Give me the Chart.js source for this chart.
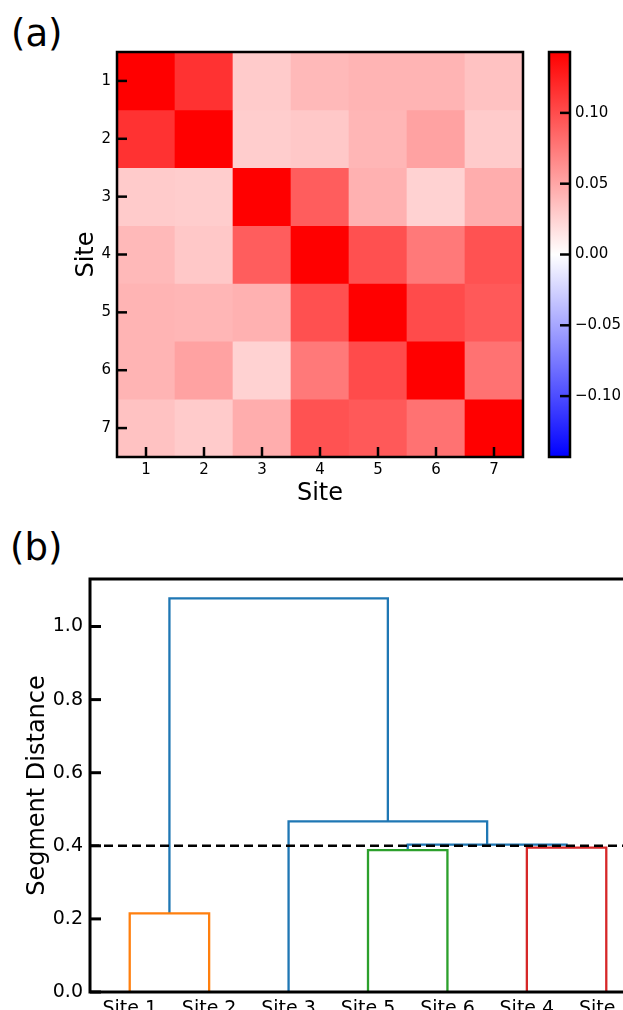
<!DOCTYPE html>
<html lang="en">
<head>
<meta charset="UTF-8">
<title>Site correlation and dendrogram</title>
<script src="https://cdn.jsdelivr.net/npm/chart.js@4.4.0/dist/chart.umd.min.js"></script>
<style>
  html, body { margin: 0; padding: 0; background: #fff; overflow: hidden; }
  body { width: 623px; height: 1010px; position: relative; font-family: 'DejaVu Sans', sans-serif; }
  .tag { position: absolute; font-size: 37px; line-height: 1; color: #000; }
  .box { position: absolute; }
</style>
</head>
<body>

<div class="tag" style="left:11px;top:15px">(a)</div>
<div class="tag" style="left:10px;top:529px">(b)</div>

<div class="box" style="left:0;top:0;width:540px;height:512px"><canvas id="heat" width="540" height="512"></canvas></div>
<div class="box" style="left:540px;top:0;width:83px;height:512px"><canvas id="cbar" width="83" height="512"></canvas></div>
<div class="box" style="left:0;top:530px;width:690px;height:500px"><canvas id="dendro" width="690" height="500"></canvas></div>

<script>
// ---- data ----
const siteTicks = ['1', '2', '3', '4', '5', '6', '7'];
const corr = [
  [0.143, 0.115, 0.029, 0.039, 0.042, 0.042, 0.034],
  [0.115, 0.143, 0.028, 0.031, 0.041, 0.052, 0.029],
  [0.029, 0.028, 0.143, 0.091, 0.044, 0.025, 0.046],
  [0.039, 0.031, 0.091, 0.143, 0.098, 0.075, 0.097],
  [0.042, 0.041, 0.044, 0.098, 0.143, 0.101, 0.093],
  [0.042, 0.052, 0.025, 0.075, 0.101, 0.143, 0.079],
  [0.034, 0.029, 0.046, 0.097, 0.093, 0.079, 0.143]
];
const vLimit = 0.143;
const cbarTicks = [-0.10, -0.05, 0.00, 0.05, 0.10];

// dendrogram (scipy style: leaf i sits at 5 + 10*i)
const leafLabels = ['Site 1', 'Site 2', 'Site 3', 'Site 5', 'Site 6', 'Site 4', 'Site 7'];
const linkX = [[5, 5, 15, 15], [35, 35, 45, 45], [55, 55, 65, 65], [40, 40, 60, 60], [25, 25, 50, 50], [10, 10, 37.5, 37.5]];
const linkY = [[0, 0.215, 0.215, 0], [0, 0.388, 0.388, 0], [0, 0.395, 0.395, 0], [0.388, 0.403, 0.403, 0.395], [0, 0.467, 0.467, 0.403], [0.215, 1.077, 1.077, 0.467]];
const linkColors = ['#ff7f0e', '#2ca02c', '#d62728', '#1f77b4', '#1f77b4', '#1f77b4'];
const cutHeight = 0.4;
const distTicks = [0.0, 0.2, 0.4, 0.6, 0.8, 1.0];

Chart.defaults.font.family = "'DejaVu Sans', sans-serif";
Chart.defaults.color = '#000';
Chart.defaults.animation = false;

function bwr(v) {
  const t = Math.max(-1, Math.min(1, v / vLimit));
  if (t >= 0) {
    const g = Math.round(255 * (1 - t));
    return 'rgb(255,' + g + ',' + g + ')';
  }
  const g = Math.round(255 * (1 + t));
  return 'rgb(' + g + ',' + g + ',255)';
}

// matplotlib-like inward ticks + axes frame
const inTicks = {
  id: 'inTicks',
  afterDraw(chart, args, opts) {
    const c = chart.ctx;
    c.save();
    c.strokeStyle = '#000';
    c.lineWidth = opts.width;
    (opts.axes || []).forEach(function (id) {
      const s = chart.scales[id];
      s.ticks.forEach(function (t, i) {
        const p = s.getPixelForTick(i);
        c.beginPath();
        if (s.position === 'left') { c.moveTo(s.right, p); c.lineTo(s.right + opts.length, p); }
        else if (s.position === 'right') { c.moveTo(s.left, p); c.lineTo(s.left - opts.length, p); }
        else { c.moveTo(p, s.top); c.lineTo(p, s.top - opts.length); }
        c.stroke();
      });
    });
    const a = chart.chartArea;
    c.lineWidth = opts.frame;
    c.strokeRect(a.left, a.top, a.right - a.left, a.bottom - a.top);
    c.restore();
  }
};

const noGrid = { display: false, drawTicks: false };

// ---- (a) heatmap ----
const heatSets = corr.map(function (row, r) {
  return {
    data: row.map(function () { return [r + 0.5, r + 1.5]; }),
    backgroundColor: row.map(bwr),
    borderWidth: 0,
    grouped: false,
    barPercentage: 1,
    categoryPercentage: 1
  };
});

new Chart(document.getElementById('heat'), {
  type: 'bar',
  data: { labels: siteTicks, datasets: heatSets },
  options: {
    responsive: false,
    layout: { padding: { left: 68, top: 52, right: 17, bottom: 0 } },
    plugins: {
      legend: { display: false },
      tooltip: { enabled: false },
      inTicks: { axes: ['x', 'y'], length: 10, width: 2.5, frame: 2.5 }
    },
    scales: {
      x: {
        grid: noGrid,
        border: { display: false },
        ticks: { font: { size: 15 }, padding: 4 },
        title: { display: true, text: 'Site', font: { size: 24 }, padding: { top: 4, bottom: 4 } },
        afterFit: function (s) { s.height = 55; }
      },
      y: {
        type: 'linear',
        min: 0.5,
        max: 7.5,
        reverse: true,
        grid: noGrid,
        border: { display: false },
        afterBuildTicks: function (s) { s.ticks = siteTicks.map(function (l, i) { return { value: i + 1 }; }); },
        ticks: { font: { size: 15 }, padding: 6, callback: function (v) { return String(v); } },
        title: { display: true, text: 'Site', font: { size: 24 }, padding: { top: 4, bottom: 4 } },
        afterFit: function (s) { s.width = 49; }
      }
    }
  },
  plugins: [inTicks]
});

// ---- colorbar ----
new Chart(document.getElementById('cbar'), {
  type: 'bar',
  data: {
    labels: [''],
    datasets: [{
      data: [[-vLimit, vLimit]],
      borderWidth: 0,
      barPercentage: 1,
      categoryPercentage: 1,
      backgroundColor: function (ctx) {
        const a = ctx.chart.chartArea;
        if (!a) return '#fff';
        const g = ctx.chart.ctx.createLinearGradient(0, a.bottom, 0, a.top);
        g.addColorStop(0, bwr(-vLimit));
        g.addColorStop(0.5, bwr(0));
        g.addColorStop(1, bwr(vLimit));
        return g;
      }
    }]
  },
  options: {
    responsive: false,
    layout: { padding: { left: 9, top: 52, right: 0, bottom: 55 } },
    plugins: {
      legend: { display: false },
      tooltip: { enabled: false },
      inTicks: { axes: ['y'], length: 10, width: 2.5, frame: 2.5 }
    },
    scales: {
      x: { display: false },
      y: {
        position: 'right',
        min: -vLimit,
        max: vLimit,
        grid: noGrid,
        border: { display: false },
        afterBuildTicks: function (s) { s.ticks = cbarTicks.map(function (v) { return { value: v }; }); },
        ticks: {
          font: { size: 15 },
          padding: 5,
          callback: function (v) { return v.toFixed(2).replace('-', '\u2212'); }
        },
        afterFit: function (s) { s.width = 53; }
      }
    }
  },
  plugins: [inTicks]
});

// ---- (b) dendrogram ----
const dendroSets = [{
  data: [{ x: 0, y: cutHeight }, { x: 70, y: cutHeight }],
  borderColor: '#000',
  borderDash: [9, 5],
  borderWidth: 2.5,
  pointRadius: 0
}].concat(linkX.map(function (xs, i) {
  return {
    data: xs.map(function (x, j) { return { x: x, y: linkY[i][j] }; }),
    borderColor: linkColors[i],
    borderWidth: 2.3,
    pointRadius: 0,
    tension: 0
  };
}));

new Chart(document.getElementById('dendro'), {
  type: 'line',
  data: { datasets: dendroSets },
  options: {
    responsive: false,
    layout: { padding: { left: 19, top: 49, right: 44, bottom: 0 } },
    plugins: {
      legend: { display: false },
      tooltip: { enabled: false },
      inTicks: { axes: ['y'], length: 11, width: 3, frame: 3 }
    },
    scales: {
      x: {
        type: 'linear',
        min: 0,
        max: 70,
        grid: noGrid,
        border: { display: false },
        afterBuildTicks: function (s) { s.ticks = leafLabels.map(function (l, i) { return { value: 5 + 10 * i }; }); },
        ticks: {
          font: { size: 19 },
          padding: 6,
          autoSkip: false,
          maxRotation: 0,
          callback: function (v, i) { return leafLabels[i]; }
        },
        afterFit: function (s) { s.height = 38; }
      },
      y: {
        min: 0,
        max: 1.13,
        grid: noGrid,
        border: { display: false },
        afterBuildTicks: function (s) { s.ticks = distTicks.map(function (v) { return { value: v }; }); },
        ticks: { font: { size: 19 }, padding: 7, callback: function (v) { return v.toFixed(1); } },
        title: { display: true, text: 'Segment Distance', font: { size: 24 }, padding: { top: 4, bottom: 4 } },
        afterFit: function (s) { s.width = 71; }
      }
    }
  },
  plugins: [inTicks]
});
</script>
</body>
</html>
